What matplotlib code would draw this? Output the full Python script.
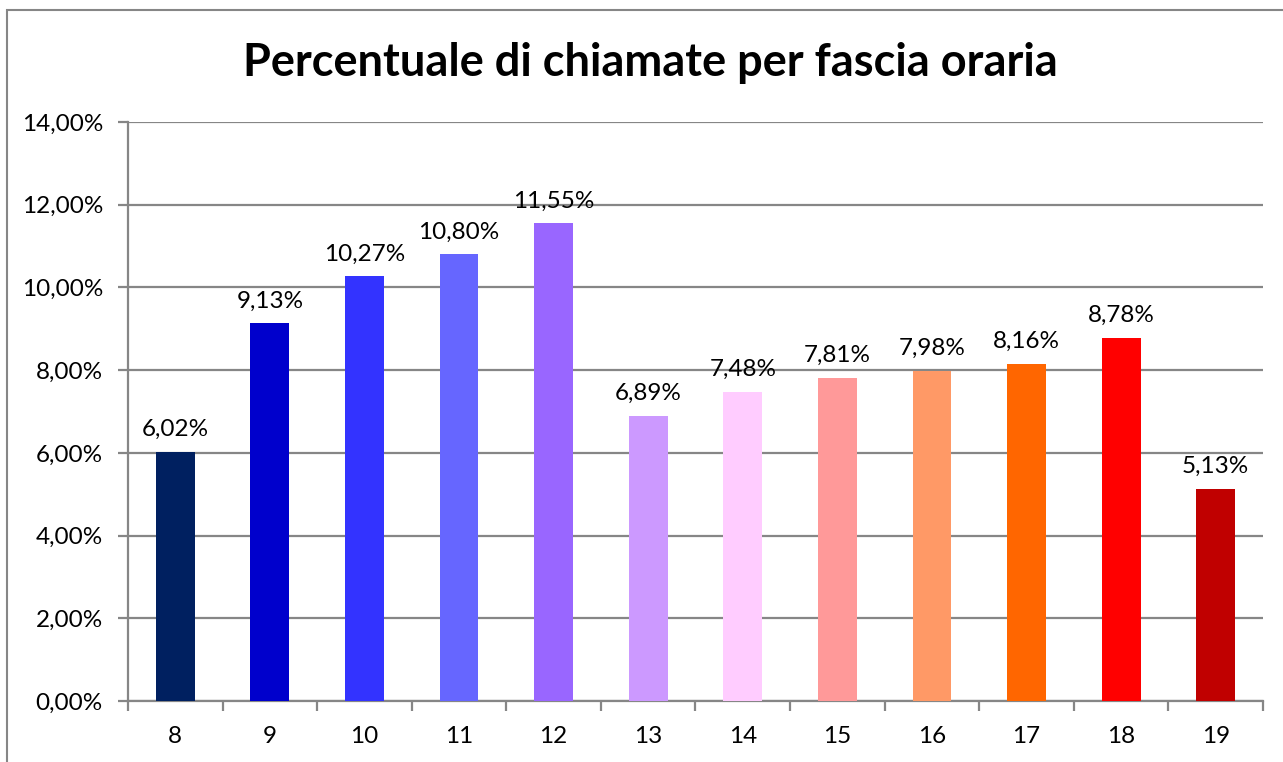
import matplotlib
matplotlib.use("Agg")
import matplotlib.pyplot as plt
from matplotlib.patches import Rectangle

hours = ["8", "9", "10", "11", "12", "13", "14", "15", "16", "17", "18", "19"]
values = [6.02, 9.13, 10.27, 10.80, 11.55, 6.89, 7.48, 7.81, 7.98, 8.16, 8.78, 5.13]
colors = ["#002060", "#0000CC", "#3333FF", "#6666FF", "#9966FF", "#CC99FF",
          "#FFCCFF", "#FF9999", "#FF9966", "#FF6600", "#FF0000", "#C00000"]
yticks = [0, 2, 4, 6, 8, 10, 12, 14]
title = "Percentuale di chiamate per fascia oraria"

plt.rcParams['font.family'] = ['Lato', 'DejaVu Sans']

W, H = 1283, 762
fig = plt.figure(figsize=(W / 100, H / 100), dpi=100)
fig.patch.set_facecolor("white")

# chart border
fig.add_artist(Rectangle((7 / W, -0.05), 1.1, 1 - 10 / H + 0.05, transform=fig.transFigure,
                         fill=False, edgecolor="#868686", linewidth=1.5))

left, right, top, bottom = 128, 1263, 122, 701
ax = fig.add_axes([left / W, 1 - bottom / H, (right - left) / W, (bottom - top) / H])

x = list(range(len(hours)))
ax.bar(x, values, width=0.41, color=colors, zorder=3)
ax.set_xlim(-0.5, len(hours) - 0.5)
ax.set_ylim(0, 14)

fs = 17.5
ax.set_yticks(yticks)
ax.set_yticklabels([f"{v:.2f}%".replace(".", ",") for v in yticks], fontsize=fs)
ax.yaxis.grid(True, color="#868686", linewidth=1.6, zorder=0)
ax.set_axisbelow(True)

ax.set_xticks(x)
ax.set_xticklabels(hours, fontsize=fs)
ax.set_xticks([i - 0.5 for i in range(len(hours) + 1)], minor=True)
ax.tick_params(axis="x", which="major", length=0, pad=18)
ax.tick_params(axis="x", which="minor", length=7, width=1.6, color="#868686")
ax.tick_params(axis="y", length=7, width=1.6, color="#868686", pad=11)

for s in ["top", "right"]:
    ax.spines[s].set_visible(False)
for s in ["left", "bottom"]:
    ax.spines[s].set_color("#868686")
    ax.spines[s].set_linewidth(1.6)

for xi, v in zip(x, values):
    ax.annotate(f"{v:.2f}%".replace(".", ","), (xi, v), xytext=(0, 8.5),
                textcoords="offset points", ha="center", va="bottom", fontsize=fs)

fig.text(650 / W, 1 - 63 / H, title, ha="center", va="center", fontsize=32.5, fontweight="bold")

fig.savefig("out.png", dpi=100)
